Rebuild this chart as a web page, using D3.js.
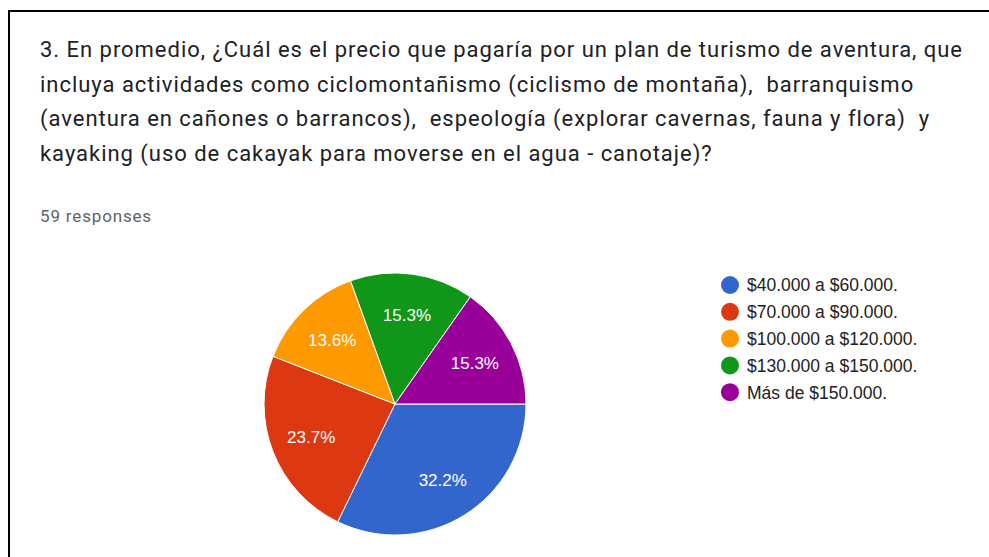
<!DOCTYPE html>
<html>
<head>
<meta charset="utf-8">
<script src="https://cdn.jsdelivr.net/npm/d3@7"></script>
<style>
  body { margin: 0; background: #fff; }
  svg { display: block; }
</style>
</head>
<body>
<div id="chart"></div>
<script>
// Data
const categories = [
    '$40.000 a $60.000.',
    '$70.000 a $90.000.',
    '$100.000 a $120.000.',
    '$130.000 a $150.000.',
    'Más de $150.000.'
];
const counts = [19, 14, 8, 9, 9];
const colors = ['#3366cc', '#dc3912', '#ff9900', '#109618', '#990099'];

const titleLines = [
    '3. En promedio, ¿Cuál es el precio que pagaría por un plan de turismo de aventura, que',
    'incluya actividades como ciclomontañismo (ciclismo de montaña),  barranquismo',
    '(aventura en cañones o barrancos),  espeología (explorar cavernas, fauna y flora)  y',
    'kayaking (uso de cakayak para moverse en el agua - canotaje)?'
];
const responsesLabel = '59 responses';

const width = 989, height = 557;
const total = d3.sum(counts);

const svg = d3.select('#chart')
    .append('svg')
    .attr('width', width)
    .attr('height', height);

// Card border (left + top)
svg.append('line')
    .attr('x1', 9).attr('y1', 11).attr('x2', width).attr('y2', 11)
    .attr('stroke', '#000').attr('stroke-width', 2);
svg.append('line')
    .attr('x1', 9).attr('y1', 10).attr('x2', 9).attr('y2', height)
    .attr('stroke', '#000').attr('stroke-width', 2);

// stretch a text element to a target width with letter-spacing
function fitWidth(sel, target, chars) {
    const len = sel.node().getComputedTextLength();
    sel.attr('letter-spacing', (target - len) / chars);
}

// Title
const title = svg.append('text')
    .attr('font-family', 'Roboto, sans-serif')
    .attr('font-size', 22)
    .attr('fill', '#202124');
const titleSpans = title.selectAll('tspan')
    .data(titleLines)
    .join('tspan')
    .attr('x', 40)
    .attr('y', (d, i) => 57 + i * 34.7)
    .style('white-space', 'pre')
    .text(d => d);

// measure first line, apply same spacing to all
const firstLen = titleSpans.nodes()[0].getComputedTextLength();
title.attr('letter-spacing', (923 - firstLen) / titleLines[0].length);

const resp = svg.append('text')
    .attr('x', 40)
    .attr('y', 221.5)
    .attr('font-family', 'Roboto, sans-serif')
    .attr('font-size', 17)
    .attr('fill', '#5f6368')
    .text(responsesLabel);
fitWidth(resp, 112, responsesLabel.length);

// Pie
const cx = 395, cy = 404, radius = 131;
const pie = d3.pie()
    .sort(null)
    .startAngle(Math.PI / 2)
    .endAngle(Math.PI / 2 + 2 * Math.PI);
const arc = d3.arc().innerRadius(0).outerRadius(radius);
const labelArc = d3.arc().innerRadius(90).outerRadius(90);

const pieG = svg.append('g')
    .attr('transform', `translate(${cx},${cy})`);

const arcs = pie(counts);

pieG.selectAll('path')
    .data(arcs)
    .join('path')
    .attr('d', arc)
    .attr('fill', (d, i) => colors[i])
    .attr('stroke', '#fff')
    .attr('stroke-width', 1);

pieG.selectAll('text')
    .data(arcs)
    .join('text')
    .attr('transform', d => `translate(${labelArc.centroid(d)})`)
    .attr('text-anchor', 'middle')
    .attr('dy', '0.36em')
    .attr('font-family', 'Arial, "Liberation Sans", sans-serif')
    .attr('font-size', 17)
    .attr('fill', '#fff')
    .text(d => (d.data / total * 100).toFixed(1) + '%');

// Legend
const legend = svg.append('g')
    .attr('transform', 'translate(730,285)');

const item = legend.selectAll('g')
    .data(categories)
    .join('g')
    .attr('transform', (d, i) => `translate(0,${i * 26.8})`);

item.append('circle')
    .attr('r', 9)
    .attr('fill', (d, i) => colors[i]);

item.append('text')
    .attr('x', 17)
    .attr('dy', '0.36em')
    .attr('font-family', 'Arial, "Liberation Sans", sans-serif')
    .attr('font-size', 17.5)
    .attr('fill', '#222')
    .text(d => d);
</script>
</body>
</html>
